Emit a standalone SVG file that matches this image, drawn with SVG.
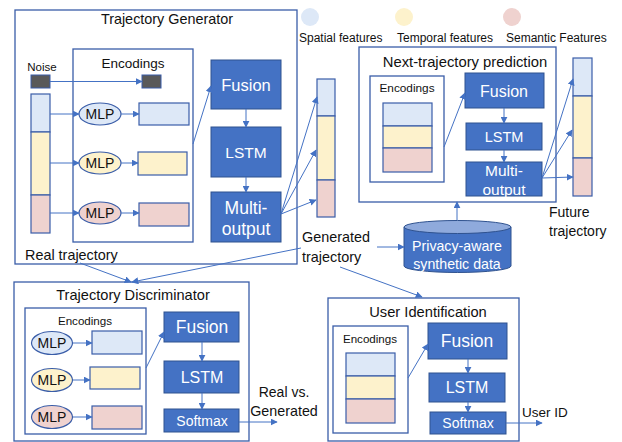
<svg xmlns="http://www.w3.org/2000/svg" width="622" height="442" viewBox="0 0 622 442">
<defs>
<marker id="ah" viewBox="0 0 10 10" refX="9" refY="5" markerWidth="7" markerHeight="7" orient="auto" markerUnits="userSpaceOnUse">
<path d="M0,0 L10,5 L0,10 z" fill="#4472C4"/>
</marker>
<style>
.frame{fill:#fff;stroke:#3A5DA8;stroke-width:1.3}
.blk{fill:#4472C4;stroke:#2F528F;stroke-width:1}
.sp{fill:#DDE8F7;stroke:#3A5DA8;stroke-width:1.2}
.tp{fill:#FDF2CC;stroke:#3A5DA8;stroke-width:1.2}
.se{fill:#EFD2CF;stroke:#3A5DA8;stroke-width:1.2}
.con{stroke:#4472C4;stroke-width:1;fill:none;marker-end:url(#ah)}
text{font-family:"Liberation Sans",Arial,sans-serif;fill:#111}
.w{fill:#fff}
.c{text-anchor:middle}
</style>
</defs>

<!-- legend -->
<g id="legend">
<circle cx="310" cy="17" r="9" fill="#DDE8F7"/>
<circle cx="404" cy="17" r="9" fill="#FDF2CC"/>
<circle cx="512" cy="17" r="9" fill="#EFD2CF"/>
<text x="299" y="42" font-size="12">Spatial features</text>
<text x="397" y="42" font-size="12">Temporal features</text>
<text x="506" y="42" font-size="12">Semantic Features</text>
</g>

<!-- Trajectory Generator -->
<g id="generator">
<rect class="frame" x="15" y="10" width="282" height="254"/>
<text class="c" x="167" y="24" font-size="14.4">Trajectory Generator</text>
<rect class="frame" x="73" y="49" width="120" height="193"/>
<text class="c" x="133" y="68" font-size="13.5">Encodings</text>
<text class="c" x="42" y="71" font-size="11.5">Noise</text>
<rect x="31" y="75" width="19" height="13" fill="#595959" stroke="#3A5DA8" stroke-width="1"/>
<rect x="142" y="75" width="19" height="13" fill="#595959" stroke="#3A5DA8" stroke-width="1"/>
<rect class="sp" x="31" y="94" width="19" height="38"/>
<rect class="tp" x="31" y="132" width="19" height="63"/>
<rect class="se" x="31" y="195" width="19" height="38"/>
<ellipse class="sp" cx="100" cy="114" rx="21" ry="11"/>
<ellipse class="tp" cx="100" cy="163" rx="21" ry="11"/>
<ellipse class="se" cx="100" cy="213" rx="21" ry="11"/>
<text class="c" x="100" y="119" font-size="14">MLP</text>
<text class="c" x="100" y="168" font-size="14">MLP</text>
<text class="c" x="100" y="218" font-size="14">MLP</text>
<rect class="sp" x="139" y="103" width="50" height="22"/>
<rect class="tp" x="138" y="152" width="49" height="23"/>
<rect class="se" x="139" y="203" width="50" height="23"/>
<rect class="blk" x="211" y="60" width="70" height="49"/>
<rect class="blk" x="211" y="127" width="70" height="50"/>
<rect class="blk" x="211" y="192" width="70" height="50"/>
<text class="c w" x="246" y="91" font-size="16.5">Fusion</text>
<text class="c w" x="246" y="158" font-size="15.5">LSTM</text>
<text class="c w" x="246" y="214" font-size="17.5">Multi-</text>
<text class="c w" x="246" y="235" font-size="17.5">output</text>
</g>

<!-- Generated trajectory bar -->
<g id="generated-bar">
<rect class="sp" x="317" y="79" width="18" height="37"/>
<rect class="tp" x="317" y="116" width="18" height="64"/>
<rect class="se" x="317" y="180" width="18" height="37"/>
</g>

<!-- Next-trajectory prediction -->
<g id="prediction">
<rect class="frame" x="359" y="47" width="197" height="155"/>
<text class="c" x="465" y="67" font-size="14.8">Next-trajectory prediction</text>
<rect class="frame" x="370" y="76" width="74" height="106"/>
<text class="c" x="407" y="92" font-size="11.8">Encodings</text>
<rect class="sp" x="383" y="103" width="49" height="23"/>
<rect class="tp" x="383" y="126" width="49" height="22"/>
<rect class="se" x="383" y="148" width="49" height="24"/>
<rect class="blk" x="465" y="73" width="79" height="35"/>
<rect class="blk" x="466" y="123" width="76" height="27"/>
<rect class="blk" x="466" y="162" width="76" height="34"/>
<text class="c w" x="504" y="97" font-size="16">Fusion</text>
<text class="c w" x="504" y="142" font-size="14.5">LSTM</text>
<text class="c w" x="504" y="176" font-size="15.5">Multi-</text>
<text class="c w" x="504" y="195" font-size="15.5">output</text>
</g>

<!-- Future trajectory -->
<g id="future">
<rect class="sp" x="573" y="58" width="19" height="38"/>
<rect class="tp" x="573" y="96" width="19" height="62"/>
<rect class="se" x="573" y="158" width="19" height="38"/>
<text x="549" y="217" font-size="14">Future</text>
<text x="549" y="236" font-size="14">trajectory</text>
</g>

<!-- Database -->
<g id="database">
<path d="M404,227 L404,266 A53.5,6.5 0 0 0 511,266 L511,227" fill="#4472C4" stroke="#2F528F" stroke-width="1"/>
<ellipse cx="457.5" cy="227" rx="53.5" ry="6.5" fill="#8FAADC" stroke="#2F528F" stroke-width="1"/>
<text class="c w" x="457" y="251" font-size="14.2">Privacy-aware</text>
<text class="c w" x="457" y="269" font-size="14.2">synthetic data</text>
</g>

<!-- labels -->
<g id="labels">
<text x="25" y="260" font-size="14.4">Real trajectory</text>
<text x="302" y="242" font-size="14.4">Generated</text>
<text x="302" y="262" font-size="14.4">trajectory</text>
</g>

<!-- Trajectory Discriminator -->
<g id="discriminator">
<rect class="frame" x="14" y="282" width="235" height="159"/>
<text class="c" x="133" y="300" font-size="14.6">Trajectory Discriminator</text>
<rect class="frame" x="25" y="308" width="121" height="126"/>
<text class="c" x="85" y="325" font-size="11.6">Encodings</text>
<ellipse class="sp" cx="52" cy="343" rx="20.5" ry="11.5"/>
<ellipse class="tp" cx="52" cy="380" rx="20.5" ry="11.5"/>
<ellipse class="se" cx="52" cy="417" rx="20.5" ry="11.5"/>
<text class="c" x="52" y="348" font-size="14">MLP</text>
<text class="c" x="52" y="385" font-size="14">MLP</text>
<text class="c" x="52" y="422" font-size="14">MLP</text>
<rect class="sp" x="92" y="331" width="50" height="23"/>
<rect class="tp" x="90" y="367" width="50" height="22"/>
<rect class="se" x="92" y="406" width="50" height="23"/>
<rect class="blk" x="164" y="312" width="75" height="30"/>
<rect class="blk" x="164" y="361" width="75" height="32"/>
<rect class="blk" x="164" y="409" width="75" height="23"/>
<text class="c w" x="202" y="333" font-size="17.5">Fusion</text>
<text class="c w" x="202" y="383" font-size="16">LSTM</text>
<text class="c w" x="202" y="426" font-size="14">Softmax</text>
<text class="c" x="284" y="397" font-size="14">Real vs.</text>
<text class="c" x="284" y="416" font-size="14.3">Generated</text>
</g>

<!-- User Identification -->
<g id="user-id">
<rect class="frame" x="328" y="298" width="191" height="143"/>
<text class="c" x="428" y="317" font-size="14.7">User Identification</text>
<rect class="frame" x="333" y="326" width="75" height="107"/>
<text class="c" x="370" y="343" font-size="11.6">Encodings</text>
<rect class="sp" x="346" y="353" width="49" height="23"/>
<rect class="tp" x="346" y="376" width="49" height="23"/>
<rect class="se" x="346" y="399" width="49" height="24"/>
<rect class="blk" x="428" y="323" width="79" height="36"/>
<rect class="blk" x="429" y="373" width="76" height="29"/>
<rect class="blk" x="430" y="412" width="76" height="22"/>
<text class="c w" x="467" y="347" font-size="17.5">Fusion</text>
<text class="c w" x="467" y="393" font-size="16">LSTM</text>
<text class="c w" x="468" y="428" font-size="14">Softmax</text>
<text x="522" y="417" font-size="13.5">User ID</text>
</g>

<!-- connectors -->
<g id="connectors">
<line class="con" x1="50" y1="81.5" x2="142" y2="81.5"/>
<line class="con" x1="50" y1="114" x2="79" y2="114"/>
<line class="con" x1="50" y1="163" x2="79" y2="163"/>
<line class="con" x1="50" y1="213" x2="79" y2="213"/>
<line class="con" x1="121" y1="114" x2="139" y2="114"/>
<line class="con" x1="121" y1="163" x2="138" y2="163"/>
<line class="con" x1="121" y1="213" x2="139" y2="213"/>
<line class="con" x1="193" y1="144" x2="211" y2="86"/>
<line class="con" x1="246" y1="109" x2="246" y2="127"/>
<line class="con" x1="246" y1="177" x2="246" y2="192"/>
<line class="con" x1="281" y1="214" x2="317" y2="97"/>
<line class="con" x1="281" y1="214" x2="316" y2="150"/>
<line class="con" x1="281" y1="214" x2="316" y2="200"/>
<line class="con" x1="444" y1="147" x2="465" y2="93"/>
<line class="con" x1="504" y1="108" x2="504" y2="123"/>
<line class="con" x1="504" y1="150" x2="504" y2="162"/>
<line class="con" x1="542" y1="178" x2="573" y2="79"/>
<line class="con" x1="542" y1="178" x2="572" y2="130"/>
<line class="con" x1="542" y1="178" x2="573" y2="177"/>
<line class="con" x1="457" y1="220" x2="457" y2="202"/>
<line class="con" x1="377" y1="247" x2="404" y2="247"/>
<line class="con" x1="80" y1="263" x2="131" y2="282"/>
<line class="con" x1="301" y1="248" x2="132" y2="282"/>
<line class="con" x1="340" y1="267" x2="422" y2="297"/>
<line class="con" x1="73" y1="343" x2="92" y2="343"/>
<line class="con" x1="73" y1="380" x2="90" y2="380"/>
<line class="con" x1="73" y1="417" x2="92" y2="417"/>
<line class="con" x1="146" y1="368" x2="164" y2="332"/>
<line class="con" x1="202" y1="342" x2="202" y2="361"/>
<line class="con" x1="202" y1="393" x2="202" y2="409"/>
<line class="con" x1="239" y1="422" x2="277" y2="422"/>
<line class="con" x1="408" y1="378" x2="428" y2="344"/>
<line class="con" x1="468" y1="359" x2="468" y2="373"/>
<line class="con" x1="468" y1="402" x2="468" y2="412"/>
<line class="con" x1="506" y1="423" x2="542" y2="423"/>
</g>
</svg>
